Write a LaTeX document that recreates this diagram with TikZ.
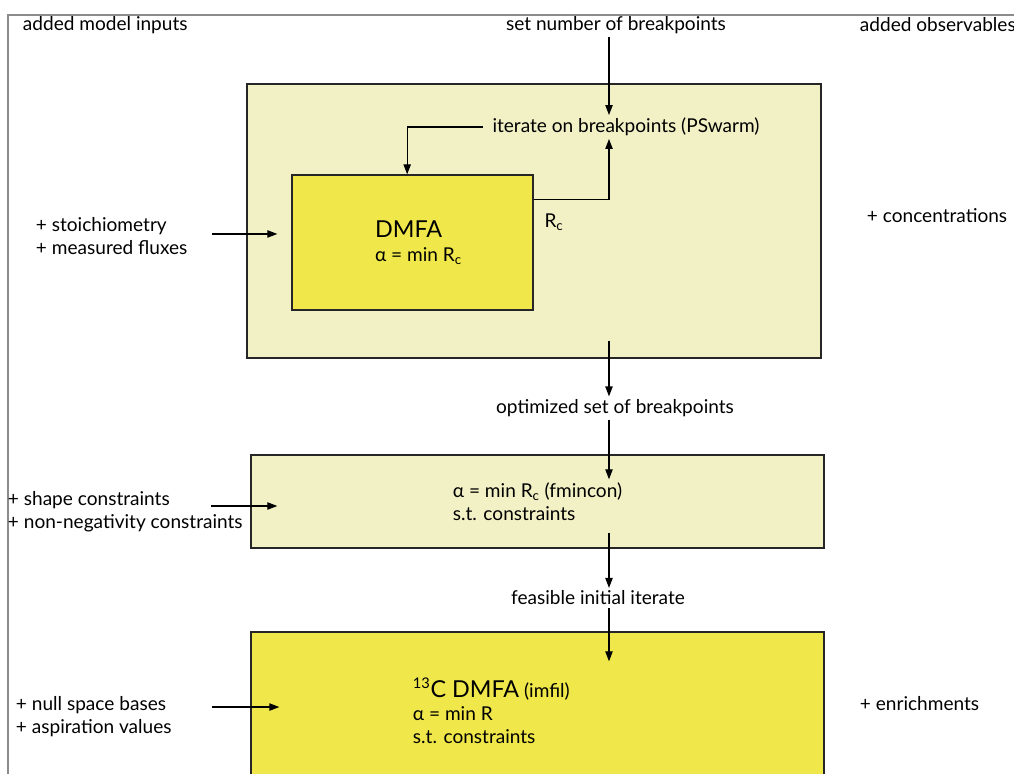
\documentclass[tikz,border=0pt]{standalone}
\usepackage{fontspec}
\setmainfont{Lato}
\usetikzlibrary{calc,positioning,arrows.meta}
\definecolor{paleyellow}{RGB}{242,241,198}
\definecolor{dmfayellow}{RGB}{240,232,74}

\begin{document}
\begin{tikzpicture}[x=0.75pt,y=-0.75pt,
  every node/.style={font=\fontsize{14.3}{17.3}\selectfont, inner sep=2pt},
  stage/.style={draw=black!85, line width=1pt, inner sep=0pt},
  pale/.style={stage, fill=paleyellow},
  bright/.style={stage, fill=dmfayellow},
  arr/.style={-{Triangle[length=7.5pt,width=5.5pt]}, line width=0.9pt}]
  \useasboundingbox (0,0) rectangle (1014,774);
  \clip (0,0) rectangle (1014,774);
  \fill[white] (0,0) rectangle (1014,774);
  \draw[black!45, line width=0.8pt] (8,774) -- (8,15) -- (1014,15);

  % stages
  \node[pale, minimum width=430.5pt, minimum height=205.5pt] (box1) at (534,221) {};
  \node[bright, minimum width=180.75pt, minimum height=101.25pt, align=left] (dmfa) at (412.5,242.5)
    {\hspace*{9pt}\fontsize{17.5}{22}\selectfont DMFA\\[1pt]\hspace*{9pt}\fontsize{14.3}{17}\selectfont α = min R\textsubscript{c}};
  \node[pale, minimum width=429.75pt, minimum height=69.75pt, align=left] (box2) at (537.5,501.5)
    {α = min R\textsubscript{c} (fmincon)\\s.t. constraints};
  \node[bright, minimum width=429.75pt, minimum height=201pt] (box3) at (537.5,766) {};
  \node[anchor=west, align=left] (c13) at (410,711)
    {{\fontsize{17.5}{22}\selectfont\textsuperscript{\fontsize{11}{12}\selectfont 13}C DMFA} (imfil)\\α = min R\\s.t. constraints};

  % labels
  \coordinate (spine) at (609,0);
  \node[anchor=west] (addin) at (20,25) {added model inputs};
  \node (setnum) at (616,25) {set number of breakpoints};
  \node[anchor=west] (addobs) at (857,25) {added observables};
  \node (iter) at (626,127) {iterate on breakpoints (PSwarm)};
  \node (rc) at (554,222) {R\textsubscript{c}};
  \node[anchor=west, align=left] (stoich) at (33,236.5) {+ stoichiometry\\+ measured fluxes};
  \node[anchor=west] (conc) at (864,216) {+ concentrations};
  \node (opt) at (615,408) {optimized set of breakpoints};
  \node[anchor=west, align=left] (shape) at (5,512) {+ shape constraints\\+ non-negativity constraints};
  \node (feas) at (598,598) {feasible initial iterate};
  \node[anchor=west, align=left] (nullsp) at (13,716.5) {+ null space bases\\+ aspiration values};
  \node[anchor=west] (enrich) at (857,704) {+ enrichments};

  % flow
  \draw[arr] (spine |- setnum.south) -- (spine |- iter.north);
  \draw[arr] ([xshift=-5pt]iter.west) -| ([xshift=-4pt]dmfa.north);
  \draw[arr] ($(dmfa.north east)+(0,25)$) -| (spine |- iter.south);
  \draw[arr] ([yshift=13.5pt]spine |- box1.south) -- (spine |- opt.north);
  \draw[arr] (spine |- opt.south) -- ([yshift=-18.75pt]spine |- box2.north);
  \draw[arr] ([yshift=12pt]spine |- box2.south) -- (spine |- feas.north);
  \draw[arr] (spine |- feas.south) -- ([yshift=-22.5pt]spine |- box3.north);

  % inputs
  \draw[arr] ([xshift=-25.5pt,yshift=1.9pt]box1.west |- stoich) -- ([xshift=23.25pt,yshift=1.9pt]box1.west |- stoich);
  \draw[arr] ([xshift=-29.25pt,yshift=4.5pt]box2.west |- shape) -- ([xshift=20.25pt,yshift=4.5pt]box2.west |- shape);
  \draw[arr] ([xshift=-28.5pt,yshift=7.1pt]box3.west |- nullsp) -- ([xshift=21.75pt,yshift=7.1pt]box3.west |- nullsp);
\end{tikzpicture}
\end{document}
